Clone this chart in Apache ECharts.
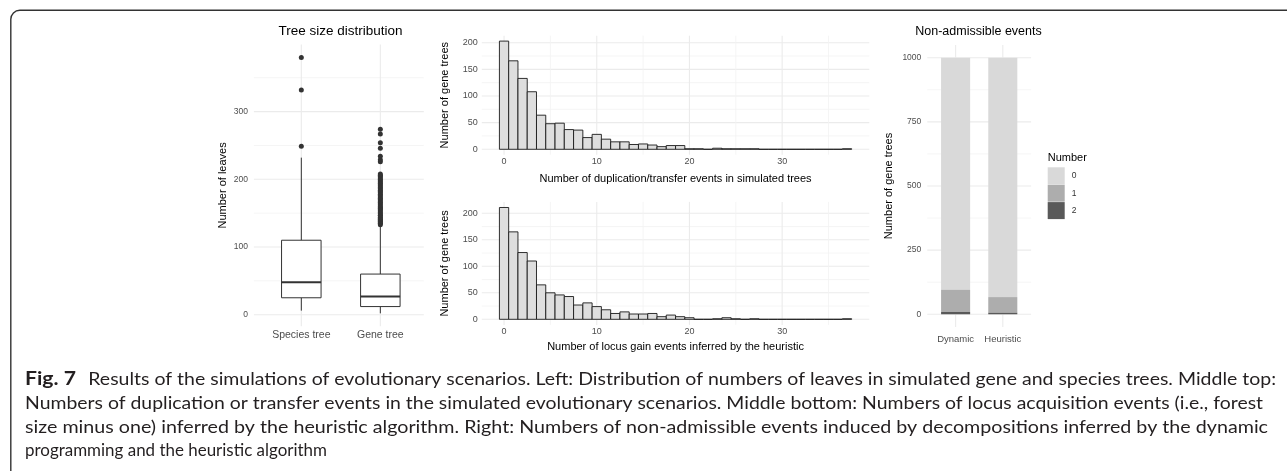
<!DOCTYPE html>
<html><head><meta charset="utf-8">
<script src="https://cdn.jsdelivr.net/npm/echarts@6/dist/echarts.min.js"></script>
<style>html,body{margin:0;padding:0;background:#fff}#c{width:1287px;height:471px}</style>
</head><body><div id="c"></div>
<script>
// ---------- data ----------
const boxCategories = ['Species tree', 'Gene tree'];
// [lower whisker, Q1, median, Q3, upper whisker]
const speciesTreeStats = [6, 25, 48, 110, 232];
const geneTreeStats = [2, 12, 27, 60, 131];
const speciesTreeOutliers = [249, 332, 380];
const geneTreeOutliers = [133, 135, 136, 138, 139, 141, 142, 144, 146, 147, 149, 151, 153, 155, 157, 158, 160, 162, 164, 166, 168, 170, 172, 174, 176, 178, 180, 182, 184, 186, 188, 190, 192, 194, 196, 198, 200, 202, 204, 206, 208, 226, 229, 234, 246, 254, 267, 274];
const boxYTicks = [0, 100, 200, 300];

const histBins = [0,1,2,3,4,5,6,7,8,9,10,11,12,13,14,15,16,17,18,19,20,21,22,23,24,25,26,27,28,29,30,31,32,33,34,35,36,37];
const dupTransferCounts = [203,166,133,108,64,48,49,37,36,22,28,19,14,14,9,10,8,5,7,7,1,1,0,2,1,1,1,1,0,0,0,0,0,0,0,0,0,1];
const locusGainCounts   = [211,165,126,110,65,50,46,43,27,31,24,18,11,14,10,10,11,5,8,5,3,0,0,1,3,1,0,1,0,0,0,0,0,0,0,0,0,1];
const histXTicks = [0, 10, 20, 30];
const histYTicks = [0, 50, 100, 150, 200];

const methods = ['Dynamic', 'Heuristic'];
const levelNames = ['0', '1', '2'];
const level0Counts = [905, 933];
const level1Counts = [86, 61];
const level2Counts = [9, 6];
const stackYTicks = [0, 250, 500, 750, 1000];

const captionBold = 'Fig. 7';
const captionLines = [
  'Results of the simulations of evolutionary scenarios. Left: Distribution of numbers of leaves in simulated gene and species trees. Middle top:',
  'Numbers of duplication or transfer events in the simulated evolutionary scenarios. Middle bottom: Numbers of locus acquisition events (i.e., forest',
  'size minus one) inferred by the heuristic algorithm. Right: Numbers of non-admissible events induced by decompositions inferred by the dynamic',
  'programming and the heuristic algorithm'
];

// ---------- helpers ----------
const FONT = '"Liberation Sans", Arial, sans-serif';
const TICK = {color: '#4d4d4d', fontSize: 8.5, fontFamily: FONT};
const NAME = {color: '#000', fontSize: 11, fontFamily: FONT};

function valAxis(grid, min, max, ticks, extra) {
  return Object.assign({
    type: 'value', gridIndex: grid, min: min, max: max,
    axisLine: {show: false}, axisTick: {show: false}, splitLine: {show: false},
    axisLabel: Object.assign({customValues: ticks, margin: 6,
      formatter: v => (ticks.indexOf(v) >= 0 ? String(v) : '')}, TICK),
    nameTextStyle: NAME
  }, extra || {});
}

function gridItems(hMajor, hMinor, vMajor, vMinor) {
  const out = [];
  hMajor.forEach(v => out.push([0, v, 0]));
  hMinor.forEach(v => out.push([0, v, 1]));
  vMajor.forEach(v => out.push([1, v, 0]));
  vMinor.forEach(v => out.push([1, v, 1]));
  return out;
}
function gridRender(params, api) {
  const cs = params.coordSys;
  const o = api.value(0), v = api.value(1), minor = api.value(2);
  const style = {stroke: minor ? '#f3f3f3' : '#ebebeb', lineWidth: minor ? 0.8 : 1.1};
  if (o === 0) {
    const y = api.coord([0, v])[1];
    return {type: 'line', shape: {x1: cs.x, y1: y, x2: cs.x + cs.width, y2: y}, style: style};
  }
  const x = api.coord([v, 0])[0];
  return {type: 'line', shape: {x1: x, y1: cs.y, x2: x, y2: cs.y + cs.height}, style: style};
}
function gridSeries(idx, items) {
  return {type: 'custom', xAxisIndex: idx, yAxisIndex: idx, z: 0, silent: true,
    renderItem: gridRender, data: items};
}

function boxRender(params, api) {
  const x = api.value(0);
  const hw = 0.25;
  const c = api.coord([x, 0])[0];
  const l = api.coord([x - hw, 0])[0], r = api.coord([x + hw, 0])[0];
  const yMin = api.coord([x, api.value(1)])[1];
  const yQ1 = api.coord([x, api.value(2)])[1];
  const yMed = api.coord([x, api.value(3)])[1];
  const yQ3 = api.coord([x, api.value(4)])[1];
  const yMax = api.coord([x, api.value(5)])[1];
  const st = {stroke: '#333', lineWidth: 1};
  return {type: 'group', children: [
    {type: 'line', shape: {x1: c, y1: yQ3, x2: c, y2: yMax}, style: st},
    {type: 'line', shape: {x1: c, y1: yQ1, x2: c, y2: yMin}, style: st},
    {type: 'rect', shape: {x: l, y: yQ3, width: r - l, height: yQ1 - yQ3}, style: {fill: '#fff', stroke: '#333', lineWidth: 1}},
    {type: 'line', shape: {x1: l, y1: yMed, x2: r, y2: yMed}, style: {stroke: '#333', lineWidth: 2}}
  ]};
}

function histRender(params, api) {
  const x = api.value(0), y = api.value(1);
  const p1 = api.coord([x - 0.5, y]);
  const p2 = api.coord([x + 0.5, 0]);
  return {type: 'rect', shape: {x: p1[0], y: p1[1], width: p2[0] - p1[0], height: p2[1] - p1[1]},
    style: {fill: '#dedede', stroke: '#1a1a1a', lineWidth: 0.9}};
}

function stackRender(params, api) {
  const x = api.value(0);
  const hw = 0.308;
  const p1 = api.coord([x - hw, api.value(2)]);
  const p2 = api.coord([x + hw, api.value(1)]);
  return {type: 'rect', shape: {x: p1[0], y: p1[1], width: p2[0] - p1[0], height: p2[1] - p1[1]},
    style: {fill: api.visual('color')}};
}

// build stacked intervals
const stackLevels = [level0Counts, level1Counts, level2Counts];
const stackColors = ['#d9d9d9', '#adadad', '#595959'];
const stackData = levelNames.map((name, li) => methods.map((m, mi) => {
  let lower = 0;
  for (let k = stackLevels.length - 1; k > li; k--) lower += stackLevels[k][mi];
  return [mi, lower, lower + stackLevels[li][mi]];
}));

// caption measurement
const mctx = document.createElement('canvas').getContext('2d');
function measure(text, font) { mctx.font = font; return mctx.measureText(text).width; }
const CAP_FONT_SIZE = 18;
const CAP_FAMILY = 'Lato';
const capFont = CAP_FONT_SIZE + 'px ' + CAP_FAMILY;
const capBoldFont = 'bold ' + CAP_FONT_SIZE + 'px ' + CAP_FAMILY;
const capStartX = [88.3, 25, 25, 25];
const capEndX = [1276, 1263, 1268, 327];
const capY = [379.5, 403, 427, 450.5];

const graphics = [
  {type: 'rect', shape: {x: 10.8, y: 10.3, width: 1400, height: 600, r: [9, 0, 0, 0]},
    style: {fill: 'none', stroke: '#333', lineWidth: 1.4}, silent: true},
  {type: 'text', x: 340.5, y: 31.7, style: {text: 'Tree size distribution', fontSize: 13.5, fontFamily: FONT, fill: '#000', align: 'center', verticalAlign: 'middle'}},
  {type: 'text', x: 978.5, y: 31.7, style: {text: 'Non-admissible events', fontSize: 12.5, fontFamily: FONT, fill: '#000', align: 'center', verticalAlign: 'middle'}},
  {type: 'text', x: 1047.7, y: 157.7, style: {text: 'Number', fontSize: 11, fontFamily: FONT, fill: '#000', align: 'left', verticalAlign: 'middle'}},
  {type: 'text', x: 25, y: capY[0], scaleX: (76 - 25) / measure(captionBold, capBoldFont),
    style: {text: captionBold, font: capBoldFont, fill: '#231f20', align: 'left', verticalAlign: 'middle'}}
];
captionLines.forEach((t, i) => {
  graphics.push({type: 'text', x: capStartX[i], y: capY[i],
    scaleX: (capEndX[i] - capStartX[i]) / measure(t, capFont),
    style: {text: t, font: capFont, fill: '#231f20', align: 'left', verticalAlign: 'middle'}});
});

const option = {
  animation: false,
  backgroundColor: '#fff',
  grid: [
    {left: 253.9, top: 44.6, width: 169.9, height: 281.6},
    {left: 481.8, top: 35.7, width: 387.5, height: 119},
    {left: 481.8, top: 201.9, width: 387.5, height: 123},
    {left: 927.3, top: 44.9, width: 103.8, height: 282.2}
  ],
  xAxis: [
    valAxis(0, -0.6, 1.55, [0, 1], {axisLabel: Object.assign({customValues: [0, 1], margin: 3,
      formatter: v => (v === 0 || v === 1 ? boxCategories[v] : '')}, TICK, {fontSize: 10.5})}),
    valAxis(1, -2.4, 39.4, histXTicks, {name: 'Number of duplication/transfer events in simulated trees', nameLocation: 'middle', nameGap: 19,
      axisLabel: Object.assign({customValues: histXTicks, margin: 2, formatter: v => (histXTicks.indexOf(v) >= 0 ? String(v) : '')}, TICK, {fontSize: 9})}),
    valAxis(2, -2.4, 39.4, histXTicks, {name: 'Number of locus gain events inferred by the heuristic', nameLocation: 'middle', nameGap: 17,
      axisLabel: Object.assign({customValues: histXTicks, margin: 2, formatter: v => (histXTicks.indexOf(v) >= 0 ? String(v) : '')}, TICK, {fontSize: 9})}),
    valAxis(3, -0.6, 1.6, [0, 1], {axisLabel: Object.assign({customValues: [0, 1], margin: 7,
      formatter: v => (v === 0 || v === 1 ? methods[v] : '')}, TICK, {fontSize: 9.5})})
  ],
  yAxis: [
    valAxis(0, -17, 399, boxYTicks, {name: 'Number of leaves', nameLocation: 'middle', nameGap: 25}),
    valAxis(1, -10.15, 213.15, histYTicks, {name: 'Number of gene trees', nameLocation: 'middle', nameGap: 31,
      axisLabel: Object.assign({customValues: histYTicks, margin: 4, formatter: v => (histYTicks.indexOf(v) >= 0 ? String(v) : '')}, TICK, {fontSize: 9})}),
    valAxis(2, -10.55, 221.55, histYTicks, {name: 'Number of gene trees', nameLocation: 'middle', nameGap: 31,
      axisLabel: Object.assign({customValues: histYTicks, margin: 4, formatter: v => (histYTicks.indexOf(v) >= 0 ? String(v) : '')}, TICK, {fontSize: 9})}),
    valAxis(3, -50, 1050, stackYTicks, {name: 'Number of gene trees', nameLocation: 'middle', nameGap: 33})
  ],
  legend: {
    orient: 'vertical', left: 1047.7, top: 167.3, padding: 0, itemWidth: 17, itemHeight: 17, itemGap: 0.4,
    icon: 'rect', data: levelNames, selectedMode: false,
    textStyle: {color: '#333', fontSize: 8.5, fontFamily: FONT, padding: [0, 0, 0, 2]}
  },
  series: [
    gridSeries(0, gridItems(boxYTicks, [50, 150, 250, 350], [0, 1], [])),
    gridSeries(1, gridItems(histYTicks, [25, 75, 125, 175], histXTicks, [5, 15, 25, 35])),
    gridSeries(2, gridItems(histYTicks, [25, 75, 125, 175], histXTicks, [5, 15, 25, 35])),
    gridSeries(3, gridItems(stackYTicks, [125, 375, 625, 875], [0, 1], [])),
    {type: 'custom', name: 'box', xAxisIndex: 0, yAxisIndex: 0, z: 2, renderItem: boxRender,
      data: [[0].concat(speciesTreeStats), [1].concat(geneTreeStats)]},
    {type: 'scatter', name: 'outliers', xAxisIndex: 0, yAxisIndex: 0, z: 3, symbolSize: 5,
      itemStyle: {color: '#333', opacity: 1},
      data: speciesTreeOutliers.map(v => [0, v]).concat(geneTreeOutliers.map(v => [1, v]))},
    {type: 'custom', name: 'dup', xAxisIndex: 1, yAxisIndex: 1, z: 2, renderItem: histRender,
      data: histBins.map((b, i) => [b, dupTransferCounts[i]])},
    {type: 'custom', name: 'gain', xAxisIndex: 2, yAxisIndex: 2, z: 2, renderItem: histRender,
      data: histBins.map((b, i) => [b, locusGainCounts[i]])}
  ].concat(levelNames.map((n, li) => ({
    type: 'custom', name: n, xAxisIndex: 3, yAxisIndex: 3, z: 2, renderItem: stackRender,
    itemStyle: {color: stackColors[li]}, data: stackData[li]
  }))),
  graphic: graphics
};

const chart = echarts.init(document.getElementById('c'), null, {renderer: 'canvas'});
chart.setOption(option);
</script>
</body></html>
